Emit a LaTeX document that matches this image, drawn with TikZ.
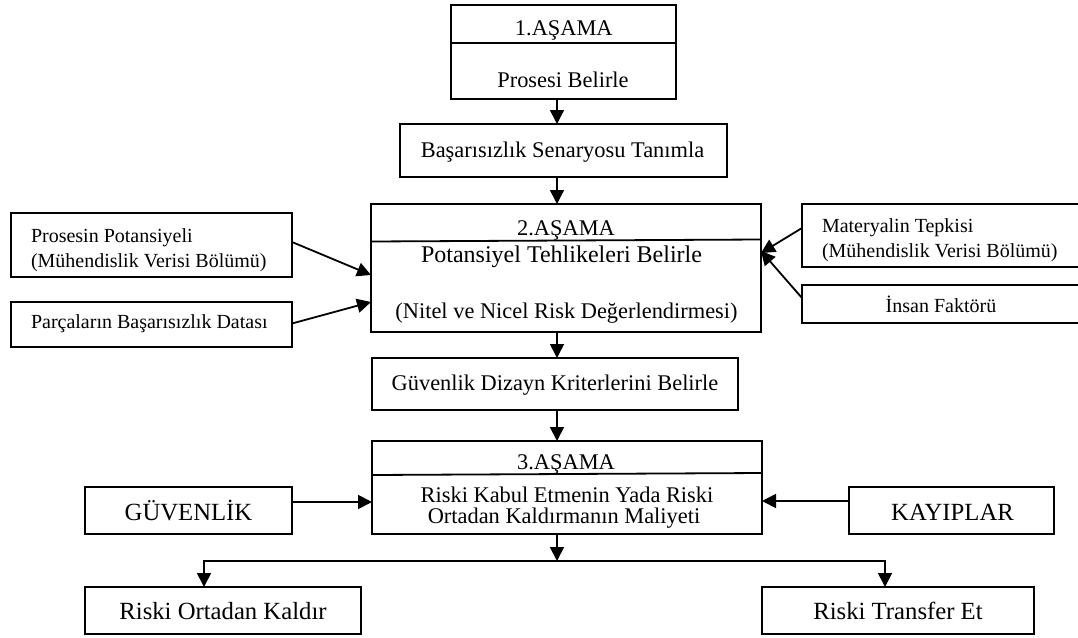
\documentclass[tikz,border=0pt]{standalone}
\usepackage{fontspec}
\setmainfont{Liberation Serif}
\usetikzlibrary{arrows.meta,calc}

\newcommand{\fsSmall}{\fontsize{20}{24}\selectfont}
\newcommand{\fsMain}{\fontsize{22.4}{26}\selectfont}
\newcommand{\fsBig}{\fontsize{24}{28}\selectfont}
\newcommand{\fsLarge}{\fontsize{24.7}{29}\selectfont}

\tikzset{
  box/.style={draw, line width=1.8pt, inner sep=0pt, outer sep=0pt, rectangle},
  txt/.style={inner sep=0pt, outer sep=0pt, anchor=base},
  txtl/.style={inner sep=0pt, outer sep=0pt, anchor=base west},
  arr/.style={line width=1.8pt, -{Triangle[length=14pt,width=14pt]}},
  ln/.style={line width=1.8pt}
}

\begin{document}
\begin{tikzpicture}[x=1pt,y=-1pt]
\fill[white] (0,0) rectangle (1078,637);
\useasboundingbox (0,0) rectangle (1078,637);

% columns used by the vertical connectors
\coordinate (col) at (557,0);
\coordinate (lcol) at (204,0);
\coordinate (rcol) at (885,0);

% ---- boxes ----
\node[box, minimum width=225pt, minimum height=94pt] (s1) at (563.5,52) {};
\node[box, minimum width=327pt, minimum height=53pt] (fail) at (563.5,150.5) {};
\node[box, minimum width=390pt, minimum height=128pt] (s2) at (566,268) {};
\node[box, minimum width=281pt, minimum height=64pt] (pp) at (151.5,245) {};
\node[box, minimum width=281pt, minimum height=45pt] (pf) at (151.5,324.5) {};
\node[box, minimum width=280pt, minimum height=63pt] (mt) at (942,235.5) {};
\node[box, minimum width=280pt, minimum height=38pt] (hf) at (942,304) {};
\node[box, minimum width=366pt, minimum height=52pt] (gd) at (555,384) {};
\node[box, minimum width=390pt, minimum height=93pt] (s3) at (567,487.5) {};
\node[box, minimum width=207pt, minimum height=47pt] (gv) at (188.5,510.5) {};
\node[box, minimum width=205pt, minimum height=47pt] (ky) at (951.5,510.5) {};
\node[box, minimum width=276pt, minimum height=47pt] (ro) at (223,610.5) {};
\node[box, minimum width=272pt, minimum height=47pt] (rt) at (898,610.5) {};

% ---- dividers inside the stage boxes ----
\draw[ln] ($(s1.north west)+(0,38)$) -- ($(s1.north east)+(0,38)$);
\draw[ln] ($(s2.north west)+(0,37.5)$) -- ($(s2.north east)+(0,35.5)$);
\draw[ln] ($(s3.north west)+(0,34)$) -- ($(s3.north east)+(0,32)$);

% ---- texts ----
\node[txt, font=\fsMain] (t1a) at (563.8,35) {1.AŞAMA};
\node[txt, font=\fsMain] (t1b) at (563,87) {Prosesi Belirle};
\node[txt, font=\fsMain] (tf) at (562.5,157) {Başarısızlık Senaryosu Tanımla};
\node[txt, font=\fsMain] (t2a) at (566,235) {2.AŞAMA};
\node[txt, font=\fsBig] (t2b) at (561.5,262) {Potansiyel Tehlikeleri Belirle};
\node[txt, font=\fsMain] (t2c) at (566.5,318) {(Nitel ve Nicel Risk Değerlendirmesi)};
\node[txtl, font=\fsSmall] (tpp1) at (31,242) {Prosesin Potansiyeli};
\node[txtl, font=\fsSmall] (tpp2) at (31,267) {(Mühendislik Verisi Bölümü)};
\node[txtl, font=\fsSmall] (tpf) at (31,328) {Parçaların Başarısızlık Datası};
\node[txtl, font=\fsSmall] (tmt1) at (822,232) {Materyalin Tepkisi};
\node[txtl, font=\fsSmall] (tmt2) at (822,257) {(Mühendislik Verisi Bölümü)};
\node[txt, font=\fsSmall] (thf) at (941,312) {İnsan Faktörü};
\node[txt, font=\fsMain] (tgd) at (555,390) {Güvenlik Dizayn Kriterlerini Belirle};
\node[txt, font=\fsMain] (t3a) at (566,469) {3.AŞAMA};
\node[txt, font=\fsMain] (t3b) at (567,502) {Riski Kabul Etmenin Yada Riski};
\node[txt, font=\fsMain] (t3c) at (564,523) {Ortadan Kaldırmanın Maliyeti};
\node[txt, font=\fsLarge] (tgv) at (188.5,520.5) {GÜVENLİK};
\node[txt, font=\fsLarge] (tky) at (952.5,520.5) {KAYIPLAR};
\node[txt, font=\fsLarge] (tro) at (223,619) {Riski Ortadan Kaldır};
\node[txt, font=\fsLarge] (trt) at (898,619) {Riski Transfer Et};

% ---- main flow ----
\draw[arr] (s1.south -| col) -- (fail.north -| col);
\draw[arr] (fail.south -| col) -- (s2.north -| col);
\draw[arr] (s2.south -| col) -- (gd.north -| col);
\draw[arr] (gd.south -| col) -- (s3.north -| col);

% ---- inputs to stage 2 ----
\draw[arr] ($(pp.east)+(0,-3)$) -- ($(s2.west)+(0,7)$);
\draw[arr] ($(pf.east)+(0,-1)$) -- ($(s2.west)+(0,34)$);
\draw[arr] ($(mt.west)+(0,-7.5)$) -- ($(s2.east)+(0,-15)$);
\draw[arr] ($(hf.west)+(0,-6)$) -- ($(s2.east)+(0,-17)$);

% ---- inputs to stage 3 ----
\coordinate (gvout) at ($(gv.east)+(0,-8.5)$);
\coordinate (kyout) at ($(ky.west)+(0,-9.5)$);
\draw[arr] (gvout) -- (s3.west |- gvout);
\draw[arr] (kyout) -- (s3.east |- kyout);

% ---- outcome split ----
\coordinate (jn) at (557,561);
\draw[arr] (s3.south -| col) -- (jn);
\draw[arr] (jn) -| (ro.north -| lcol);
\draw[arr] (jn) -| (rt.north -| rcol);
\end{tikzpicture}
\end{document}
